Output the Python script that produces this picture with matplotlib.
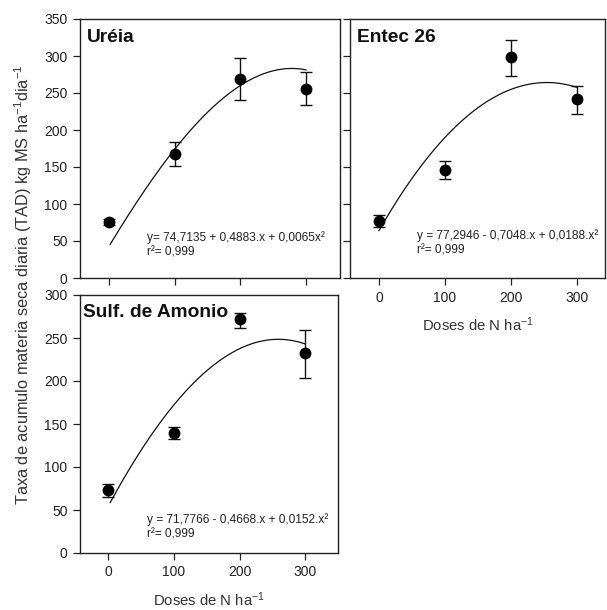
import numpy as np
import matplotlib
matplotlib.use("Agg")
import matplotlib.pyplot as plt

plt.rcParams['font.family'] = ['Liberation Sans', 'DejaVu Sans']
plt.rcParams['mathtext.fontset'] = 'custom'
plt.rcParams['mathtext.rm'] = 'Liberation Sans'
plt.rcParams['mathtext.default'] = 'regular'

doses = [0, 100, 200, 300]

ureia_mean = [76, 168, 269, 256]
ureia_lo = [71, 151, 241, 234]
ureia_hi = [80, 184, 297, 278]
ureia_curve_x = [2, 50, 100, 150, 200, 250, 300]
ureia_curve_y = [47, 110, 172, 229, 260, 276, 283]

entec_mean = [77, 146, 298, 242]
entec_lo = [69, 134, 273, 222]
entec_hi = [85, 158, 322, 259]
entec_curve_x = [0, 50, 100, 150, 200, 250, 300]
entec_curve_y = [65, 132, 191, 232, 253, 264, 258]

sulf_mean = [73, 139, 272, 232]
sulf_lo = [65, 132, 262, 204]
sulf_hi = [80, 146, 279, 259]
sulf_curve_x = [3, 50, 100, 150, 200, 250, 300]
sulf_curve_y = [60, 116, 174, 213, 238, 246, 244]

titles = ["Uréia", "Entec 26", "Sulf. de Amonio"]
equations = ["y= 74,7135 + 0,4883.x + 0,0065x²\nr²= 0,999",
             "y = 77,2946 - 0,7048.x + 0,0188.x²\nr²= 0,999",
             "y = 71,7766 - 0,4668.x + 0,0152.x²\nr²= 0,999"]

W, H = 607, 610
fig = plt.figure(figsize=(W / 100, H / 100), dpi=100)


def rect(l, r, t, b):
    return [l / W, (H - b) / H, (r - l) / W, (b - t) / H]


panels = [
    dict(rect=rect(80, 340, 19, 278), xlim=(-44, 352), ylim=(0, 350), yt=np.arange(0, 351, 50),
         mean=ureia_mean, lo=ureia_lo, hi=ureia_hi, cx=ureia_curve_x, cy=ureia_curve_y,
         xlabels=False, ylabels=True, xlabel=None, title_xy=(87, 37), eq_xy=(147, 231)),
    dict(rect=rect(350, 605, 19, 278), xlim=(-44, 343), ylim=(0, 350), yt=np.arange(0, 351, 50),
         mean=entec_mean, lo=entec_lo, hi=entec_hi, cx=entec_curve_x, cy=entec_curve_y,
         xlabels=True, ylabels=False, xlabel="Doses de N ha$^{-1}$", title_xy=(357, 38), eq_xy=(417, 229)),
    dict(rect=rect(80, 338, 295, 553), xlim=(-43, 350), ylim=(0, 300), yt=np.arange(0, 301, 50),
         mean=sulf_mean, lo=sulf_lo, hi=sulf_hi, cx=sulf_curve_x, cy=sulf_curve_y,
         xlabels=True, ylabels=True, xlabel="Doses de N ha$^{-1}$", title_xy=(83, 313), eq_xy=(147, 513)),
]

for i, p in enumerate(panels):
    ax = fig.add_axes(p['rect'])
    ax.set_xlim(*p['xlim'])
    ax.set_ylim(*p['ylim'])
    ax.set_xticks(doses)
    ax.set_yticks(p['yt'])
    ax.tick_params(direction='out', length=5, width=0.9, labelsize=10, colors='#222222', pad=4)
    if not p['xlabels']:
        ax.set_xticklabels([])
    if not p['ylabels']:
        ax.set_yticklabels([])
    for s in ax.spines.values():
        s.set_linewidth(1.0)
        s.set_color('#222222')
    # fitted curve
    coef = np.polyfit(p['cx'], p['cy'], 3)
    xs = np.linspace(p['cx'][0], p['cx'][-1], 200)
    ax.plot(xs, np.polyval(coef, xs), color='#111111', lw=0.9)
    mean = np.array(p['mean'])
    yerr = [mean - np.array(p['lo']), np.array(p['hi']) - mean]
    ax.errorbar(doses, mean, yerr=yerr, fmt='o', color='black', ms=7.5,
                ecolor='#111111', elinewidth=1.0, capsize=4, capthick=1.0, zorder=3)
    if p['xlabel']:
        ax.set_xlabel(p['xlabel'], fontsize=10.7, color='#333333', labelpad=8)
    fig.text(p['title_xy'][0] / W, 1 - p['title_xy'][1] / H, titles[i], fontsize=13.8,
             fontweight='bold', va='center', ha='left', color='#111111')
    fig.text(p['eq_xy'][0] / W, 1 - p['eq_xy'][1] / H, equations[i], fontsize=8.6,
             va='top', ha='left', color='#222222', linespacing=1.35)

fig.text(23 / W, 1 - 285 / H, "Taxa de acumulo materia seca diaria (TAD) kg MS ha$^{-1}$dia$^{-1}$",
         rotation=90, va='center', ha='center', fontsize=11.8, color='#333333')

fig.savefig("out.png", dpi=100, facecolor='white')
